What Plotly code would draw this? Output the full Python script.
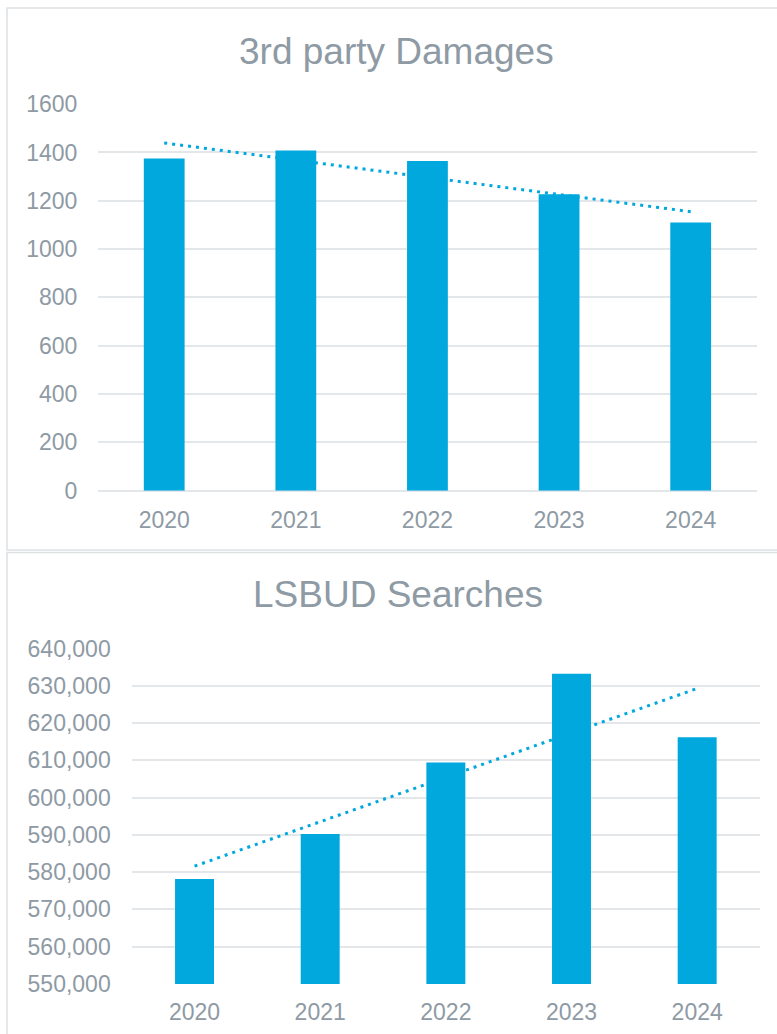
import numpy as np
import plotly.graph_objects as go

years = ["2020", "2021", "2022", "2023", "2024"]
damages = [1375, 1408, 1365, 1227, 1110]
searches = [578100, 590200, 609400, 633200, 616200]

W, H = 777, 1034
BAR = "#00A8DE"
TXT = "#8E9AA4"
GRID = "#E4E7E9"
BORDER = "#DDE1E3"
FONT = "Liberation Sans, Arial, sans-serif"


def px_x(p):
    return p / W


def px_y(p):
    return (H - p) / H


def trend(vals):
    idx = np.arange(len(vals))
    m, b = np.polyfit(idx, np.array(vals, dtype=float), 1)
    return list(m * idx + b)


fig = go.Figure()
fig.add_trace(go.Bar(x=years, y=damages, marker=dict(color=BAR, line=dict(width=0)),
                     xaxis="x", yaxis="y", showlegend=False, hoverinfo="skip"))
fig.add_trace(go.Scatter(x=years, y=trend(damages), mode="lines",
                         line=dict(color=BAR, width=3, dash="3px,5px"),
                         xaxis="x", yaxis="y", showlegend=False, hoverinfo="skip"))
fig.add_trace(go.Bar(x=years, y=searches, marker=dict(color=BAR, line=dict(width=0)),
                     xaxis="x2", yaxis="y2", showlegend=False, hoverinfo="skip"))
fig.add_trace(go.Scatter(x=years, y=trend(searches), mode="lines",
                         line=dict(color=BAR, width=3, dash="3px,5px"),
                         xaxis="x2", yaxis="y2", showlegend=False, hoverinfo="skip"))

tickfont = dict(family=FONT, size=23, color=TXT)

fig.update_layout(
    width=W, height=H,
    margin=dict(l=0, r=0, t=0, b=0, autoexpand=False),
    paper_bgcolor="white", plot_bgcolor="white",
    bargap=0.69,
    font=dict(family=FONT, color=TXT),
    xaxis=dict(domain=[px_x(98.4), px_x(756.5)], anchor="y", type="category",
               showgrid=False, zeroline=False, showline=False, ticks="", automargin=False,
               tickfont=tickfont, ticklabelstandoff=13),
    yaxis=dict(domain=[px_y(490.7), px_y(104)], anchor="x", range=[0, 1600.5],
               dtick=200, tickformat="d", showgrid=True, gridcolor=GRID, gridwidth=2,
               zeroline=True, zerolinecolor=GRID, zerolinewidth=2, automargin=False,
               showline=False, ticks="", tickfont=tickfont, ticklabelstandoff=20),
    xaxis2=dict(domain=[px_x(131.7), px_x(760)], anchor="y2", type="category",
                showgrid=False, zeroline=False, showline=False, ticks="", automargin=False,
                tickfont=tickfont, ticklabelstandoff=12),
    yaxis2=dict(domain=[px_y(984), px_y(648.3)], anchor="x2", range=[549950, 640050],
                dtick=10000, tickformat=",d", showgrid=True, gridcolor=GRID, gridwidth=2,
                zeroline=False, showline=False, ticks="", tickfont=tickfont,
                automargin=False, ticklabelstandoff=20),
    annotations=[
        dict(text="3rd party Damages", xref="paper", yref="paper",
             x=px_x(396.5), y=px_y(51), xanchor="center", yanchor="middle",
             showarrow=False, font=dict(family=FONT, size=37, color=TXT)),
        dict(text="LSBUD Searches", xref="paper", yref="paper",
             x=px_x(398.2), y=px_y(594), xanchor="center", yanchor="middle",
             showarrow=False, font=dict(family=FONT, size=37, color=TXT)),
    ],
    shapes=[
        dict(type="rect", xref="paper", yref="paper",
             x0=px_x(7), x1=px_x(800), y0=px_y(550), y1=px_y(8),
             line=dict(color=BORDER, width=1.5), fillcolor="rgba(0,0,0,0)", layer="below"),
        dict(type="rect", xref="paper", yref="paper",
             x0=px_x(7), x1=px_x(800), y0=px_y(1050), y1=px_y(552.5),
             line=dict(color=BORDER, width=1.5), fillcolor="rgba(0,0,0,0)", layer="below"),
    ],
)

fig.write_html("out.html", config={"displayModeBar": False, "staticPlot": True})
